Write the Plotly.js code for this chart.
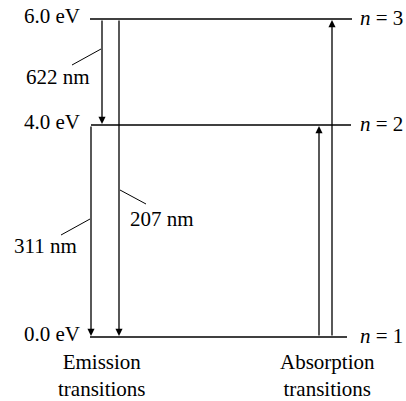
<!DOCTYPE html>
<html>
<head>
<meta charset="utf-8">
<script src="https://cdn.plot.ly/plotly-3.0.1.min.js"></script>
<style>html,body{margin:0;padding:0;background:#fff;}#chart{width:406px;height:401px;}</style>
</head>
<body>
<div id="chart"></div>
<script>
// Energy levels
const levelEnergies = [0.0, 4.0, 6.0];
const levelLabels = ["0.0 eV", "4.0 eV", "6.0 eV"];
const levelN = ["1", "2", "3"];
// Emission transitions (from, to, wavelength label)
const emissionFrom = [6.0, 6.0, 4.0];
const emissionTo = [4.0, 0.0, 0.0];
const emissionLabels = ["622 nm", "207 nm", "311 nm"];
// Absorption transitions
const absorptionFrom = [0.0, 0.0];
const absorptionTo = [4.0, 6.0];
const groupLabels = ["Emission<br>transitions", "Absorption<br>transitions"];

const FONT = "Liberation Serif";
const FS = 21;
const PX = 53; // pixels per eV
const Y0 = 337; // pixel of 0 eV
const toE = py => (Y0 - py) / PX;

// layout positions (pixels on x axis)
const levelX0 = [90, 91, 90];
const levelX1 = [347, 351, 352];
const emissionX = [102, 119, 91];
const absorptionX = [319, 332];
// leader lines: [x0, y0px, x1, y1px], text center
const leaders = [
  {x0: 72, y0: 65, x1: 101, y1: 49, tx: 58, ty: 77},
  {x0: 120, y0: 190, x1: 146, y1: 204, tx: 162, ty: 219},
  {x0: 61, y0: 235, x1: 90, y1: 219, tx: 45, ty: 246}
];

const traces = levelEnergies.map((e, i) => ({
  type: "scatter", mode: "lines",
  x: [levelX0[i], levelX1[i]], y: [e, e],
  line: {color: "#000", width: 1.5},
  hoverinfo: "skip", showlegend: false
}));

const annotations = [];
const shapes = [];
levelEnergies.forEach((e, i) => {
  annotations.push({x: 82, y: e, xref: "x", yref: "y", text: levelLabels[i],
    showarrow: false, xanchor: "right", yanchor: "middle", yshift: 3,
    font: {family: FONT, size: FS, color: "#000"}});
  annotations.push({x: 358, y: e, xref: "x", yref: "y", text: "<i>n</i> = " + levelN[i],
    showarrow: false, xanchor: "left", yanchor: "middle", yshift: 1,
    font: {family: FONT, size: FS, color: "#000"}});
});
emissionFrom.forEach((f, i) => {
  annotations.push({x: emissionX[i], y: emissionTo[i] + 0.02, ax: emissionX[i], ay: f,
    xref: "x", yref: "y", axref: "x", ayref: "y", text: "", showarrow: true,
    arrowhead: 2, arrowsize: 1.1, arrowwidth: 1.3, arrowcolor: "#000", standoff: 0, startstandoff: 0});
  const L = leaders[i];
  shapes.push({type: "line", xref: "x", yref: "y", x0: L.x0, y0: toE(L.y0), x1: L.x1, y1: toE(L.y1),
    line: {color: "#000", width: 1}});
  annotations.push({x: L.tx, y: toE(L.ty), xref: "x", yref: "y", text: emissionLabels[i],
    showarrow: false, xanchor: "center", yanchor: "middle",
    font: {family: FONT, size: FS, color: "#000"}});
});
absorptionFrom.forEach((f, i) => {
  annotations.push({x: absorptionX[i], y: absorptionTo[i] - 0.02, ax: absorptionX[i], ay: f,
    xref: "x", yref: "y", axref: "x", ayref: "y", text: "", showarrow: true,
    arrowhead: 2, arrowsize: 1.1, arrowwidth: 1.3, arrowcolor: "#000", standoff: 0, startstandoff: 0});
});
const groupX = [102, 327];
groupLabels.forEach((g, i) => {
  annotations.push({x: groupX[i], y: toE(375), xref: "x", yref: "y", text: g,
    showarrow: false, xanchor: "center", yanchor: "middle",
    font: {family: FONT, size: FS, color: "#000"}});
});

const layout = {
  width: 406, height: 401,
  margin: {l: 0, r: 0, t: 0, b: 0},
  paper_bgcolor: "#fff", plot_bgcolor: "#fff",
  font: {family: FONT, size: FS, color: "#000"},
  xaxis: {range: [0, 406], visible: false, fixedrange: true},
  yaxis: {range: [toE(401), toE(0)], visible: false, fixedrange: true},
  annotations: annotations, shapes: shapes, showlegend: false
};
Plotly.newPlot("chart", traces, layout, {staticPlot: true, displayModeBar: false});
</script>
</body>
</html>
